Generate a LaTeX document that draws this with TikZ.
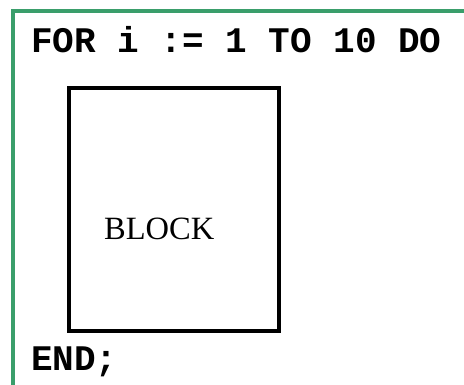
\documentclass[tikz,border=0pt]{standalone}
\usepackage{fontspec}
\setmainfont{Liberation Serif}
\setmonofont{Liberation Mono}
\usepackage{tikz}
\usetikzlibrary{positioning}
\definecolor{frgreen}{RGB}{58,158,107}
\tikzset{
  frame/.style={draw=frgreen, line width=4pt},
  blk/.style={rectangle, draw=black, line width=4pt, minimum width=210pt, minimum height=243pt, inner sep=0pt},
  code/.style={font=\ttfamily\bfseries\fontsize{36}{36}\selectfont, inner sep=0pt, anchor=base west},
  lbl/.style={font=\fontsize{32.5}{32.5}\selectfont, inner sep=0pt, anchor=base west}
}

\begin{document}
\begin{tikzpicture}[x=1pt, y=1pt]
        \useasboundingbox (0,0) rectangle (464,385);
        \coordinate (fb) at (13,0);
        \coordinate (fc) at (13,373.5);
        \coordinate (fr) at (464,373.5);
        \draw[frame] (fb)--(fc)--(fr);
        \node[code] (head) at (31,332) {FOR i := 1 TO 10 DO};
        \node[blk] (body) at (174,175.5) {};
        \node[lbl] (txt) at (104,145) {BLOCK};
        \node[code] (tail) at (31,14) {END;};
      \end{tikzpicture}
\end{document}
